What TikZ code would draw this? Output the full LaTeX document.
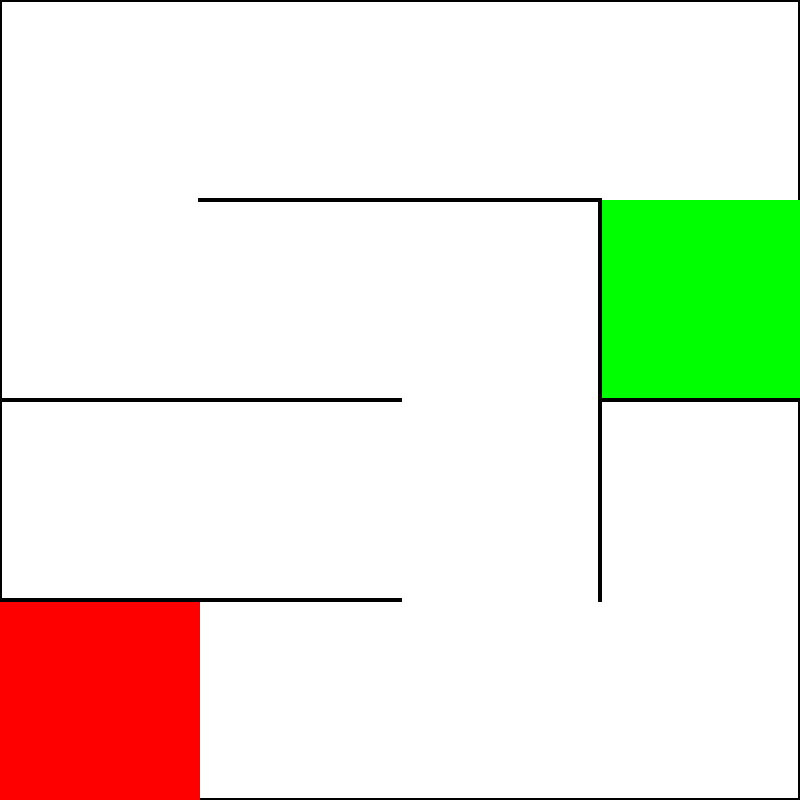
\documentclass[tikz,border=0pt]{standalone}
\usepackage{xcolor}
\usepackage{tikz}
\definecolor{zielgruen}{RGB}{0,255,0}
\definecolor{startrot}{RGB}{255,0,0}
\tikzset{
    wand/.style={line width=1.15pt, black},
    ecke/.style={fill=black}
}
\begin{document}
\begin{tikzpicture}
% Größe der Zellen und halbe Wandstärke
\def\cellsize{2cm}
\def\halbwand{0.58pt}
\useasboundingbox (0,0) rectangle (4*\cellsize, 4*\cellsize);

% Rand des Labyrinths
\draw[wand] (0,0) rectangle (4*\cellsize, 4*\cellsize);

% Waagrechte Wände
\draw[wand] (1*\cellsize, 3*\cellsize) -- (3*\cellsize, 3*\cellsize);
\draw[wand] (0, 2*\cellsize) -- (2*\cellsize, 2*\cellsize);
\draw[wand] (3*\cellsize, 2*\cellsize) -- (4*\cellsize, 2*\cellsize);
\draw[wand] (0, 1*\cellsize) -- (2*\cellsize, 1*\cellsize);

% Senkrechte Wand
\draw[wand] (3*\cellsize, 1*\cellsize) -- (3*\cellsize, 3*\cellsize);

% Eckpunkte des Gitters
\foreach \i in {0,...,4} {
    \foreach \j in {0,...,4} {
        \fill[ecke] (\i*\cellsize, \j*\cellsize) ++(-0.02, -0.02) rectangle ++(0.04, 0.04);
    }
}

% Ziel und Start
\fill[zielgruen] (3*\cellsize + \halbwand, 2*\cellsize + \halbwand) rectangle (4*\cellsize, 3*\cellsize - 0.01);
\fill[startrot] (0, 0) rectangle (1*\cellsize - 0.015, 1*\cellsize - \halbwand);
\end{tikzpicture}
\end{document}
